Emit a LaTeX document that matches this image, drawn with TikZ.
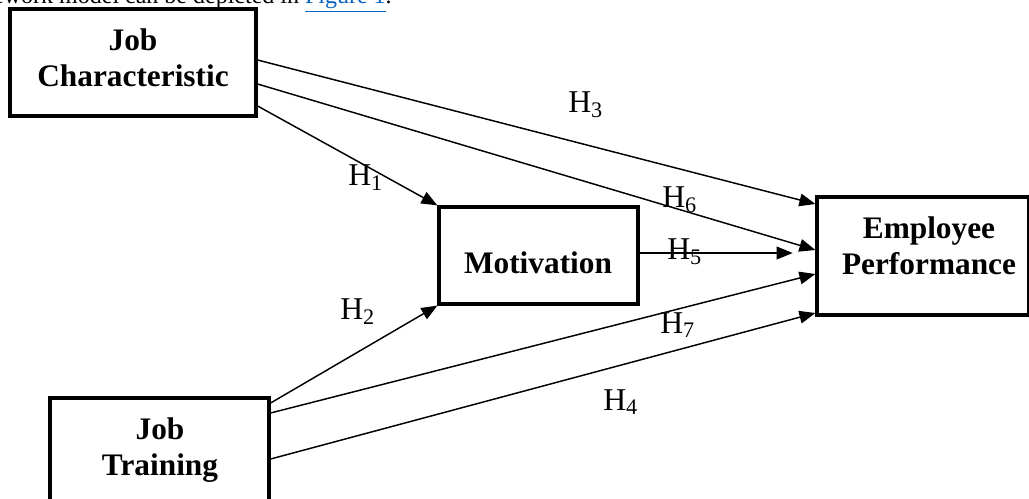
\documentclass[tikz,border=0pt]{standalone}
\usepackage{fontspec}
\setmainfont{Liberation Serif}
\usetikzlibrary{arrows.meta,calc}
\definecolor{linkblue}{RGB}{5,99,193}
\tikzset{
  box/.style={draw, line width=2.4pt, inner sep=0pt, fill=white},
  lbl/.style={align=center, inner sep=0pt, font=\fontsize{23.5}{27}\selectfont\bfseries},
  hyp/.style={inner sep=0pt, anchor=base west, font=\fontsize{23.8}{27}\selectfont},
  arr/.style={line width=1.1pt, -{Triangle[length=12pt,width=9.5pt]}},
}
\begin{document}
\begin{tikzpicture}[x=0.75pt,y=-0.75pt]
\useasboundingbox (0,0) rectangle (1029,499);
\clip (0,0) rectangle (1029,499);
\fill[white] (0,0) rectangle (1029,499);

\node[anchor=base east, inner sep=0pt, font=\fontsize{18}{21}\selectfont] (toptext) at (392,4)
  {framework model can be depicted in \textcolor{linkblue}{\underline{Figure 1}}.};

% boxes
\node[box, minimum width=184.5pt, minimum height=80.25pt] (jc) at (133,62.5) {};
\node[box, minimum width=149.25pt, minimum height=72.75pt] (mot) at (538.5,255.5) {};
\node[box, minimum width=159pt, minimum height=88.5pt] (ep) at (923,256) {};
\node[box, minimum width=164.25pt, minimum height=78pt] (jt) at (159.5,450) {};

% box texts
\node[lbl] (jctext) at (133,58) {Job\\Characteristic};
\node[lbl] (mottext) at (538,262.5) {Motivation};
\node[lbl] (eptext) at (929,246) {Employee\\Performance};
\node[lbl] (jttext) at (160,450.5) {Job\\Training};

% connectors
\draw[arr] (jc.east |- 0,60) -- (ep.west |- 0,204);
\draw[arr] (jc.east |- 0,84) -- (ep.west |- 0,250);
\draw[arr] (jc.east |- 0,106) -- (mot.north west);
\draw[arr, shorten >=17pt] (mot.east |- 0,253) -- (ep.west |- 0,253);
\draw[arr] (jt.east |- 0,403) -- (mot.south west);
\draw[arr] (jt.east |- 0,413) -- (ep.west |- 0,274);
\draw[arr] (jt.east |- 0,459) -- (ep.west |- 0,313);

% hypothesis labels
\node[hyp] (h1) at (348,186) {H\textsubscript{1}};
\node[hyp] (h2) at (340,320) {H\textsubscript{2}};
\node[hyp] (h3) at (568,113) {H\textsubscript{3}};
\node[hyp] (h4) at (603,410) {H\textsubscript{4}};
\node[hyp] (h5) at (667,260) {H\textsubscript{5}};
\node[hyp] (h6) at (662,208) {H\textsubscript{6}};
\node[hyp] (h7) at (660,333) {H\textsubscript{7}};
\end{tikzpicture}
\end{document}
